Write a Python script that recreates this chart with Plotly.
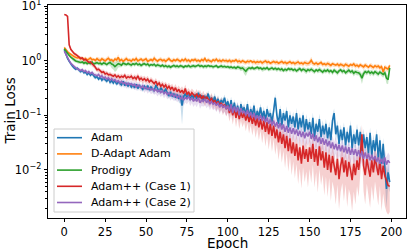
import plotly.graph_objects as go

epochs = list(range(200))

adam = [
1.6, 1.3, 1.1, 0.97, 0.86, 0.8, 0.74, 0.7, 0.73, 0.66,
0.63, 0.67, 0.6, 0.62, 0.56, 0.6, 0.54, 0.58, 0.52, 0.49,
0.51, 0.46, 0.5, 0.44, 0.48, 0.45, 0.42, 0.47, 0.4, 0.43,
0.39, 0.44, 0.37, 0.41, 0.38, 0.36, 0.42, 0.35, 0.39, 0.34,
0.38, 0.33, 0.36, 0.32, 0.37, 0.31, 0.35, 0.33, 0.3, 0.34,
0.31, 0.35, 0.29, 0.33, 0.3, 0.28, 0.36, 0.3, 0.27, 0.32,
0.29, 0.26, 0.31, 0.25, 0.23, 0.27, 0.22, 0.25, 0.21, 0.24,
0.2, 0.23, 0.15, 0.22, 0.25, 0.21, 0.24, 0.2, 0.23, 0.21,
0.24, 0.2, 0.26, 0.21, 0.23, 0.19, 0.22, 0.2, 0.25, 0.19,
0.21, 0.18, 0.22, 0.17, 0.2, 0.16, 0.19, 0.17, 0.21, 0.15,
0.18, 0.13, 0.19, 0.12, 0.17, 0.11, 0.15, 0.1, 0.16, 0.12,
0.14, 0.1, 0.16, 0.09, 0.13, 0.1, 0.15, 0.085, 0.12, 0.095,
0.14, 0.09, 0.12, 0.08, 0.13, 0.095, 0.11, 0.075, 0.12, 0.21,
0.1, 0.07, 0.13, 0.065, 0.11, 0.08, 0.12, 0.06, 0.1, 0.07,
0.095, 0.06, 0.11, 0.055, 0.09, 0.06, 0.1, 0.05, 0.085, 0.055,
0.075, 0.045, 0.09, 0.04, 0.07, 0.05, 0.085, 0.04, 0.065, 0.045,
0.07, 0.038, 0.06, 0.035, 0.08, 0.11, 0.045, 0.065, 0.03, 0.055,
0.035, 0.06, 0.028, 0.05, 0.032, 0.065, 0.025, 0.045, 0.03, 0.055,
0.028, 0.05, 0.022, 0.045, 0.025, 0.04, 0.02, 0.048, 0.018, 0.035,
0.022, 0.045, 0.016, 0.035, 0.013, 0.03, 0.011, 0.0045, 0.009, 0.006]

dadapt = [
1.75, 1.58, 1.46, 1.37, 1.29, 1.24, 1.19, 1.15, 1.12, 1.14,
1.08, 1.12, 1.05, 1.1, 1.03, 1.07, 1.12, 1.04, 1.06, 1.01,
1.09, 1.03, 1.0, 1.08, 1.05, 0.99, 1.06, 1.11, 1.02, 1.04,
0.98, 1.07, 1.03, 1.15, 1.0, 1.05, 0.97, 1.04, 1.09, 1.01,
1.03, 0.98, 1.06, 1.02, 1.1, 0.99, 1.04, 1.07, 1.0, 1.03,
1.08, 0.97, 1.02, 1.05, 1.0, 1.11, 1.03, 0.98, 1.04, 1.06,
1.0, 1.03, 0.97, 1.05, 1.09, 1.01, 0.98, 1.04, 1.0, 1.06,
1.02, 0.97, 1.05, 1.0, 1.08, 0.99, 1.03, 0.96, 1.04, 1.01,
1.06, 0.99, 1.02, 0.97, 1.05, 1.0, 1.1, 0.98, 1.03, 1.0,
0.96, 1.04, 1.0, 1.07, 0.98, 1.02, 0.97, 1.03, 0.99, 1.01,
0.97, 1.02, 0.95, 1.0, 0.98, 1.04, 0.96, 0.99, 0.94, 1.0,
0.96, 0.93, 0.98, 0.95, 1.0, 0.94, 0.97, 0.92, 0.96, 0.93,
0.97, 0.91, 0.95, 0.99, 0.93, 0.96, 0.9, 0.94, 0.97, 0.92,
0.95, 0.9, 0.93, 0.97, 0.91, 0.94, 0.89, 0.92, 0.96, 0.9,
0.93, 0.88, 0.92, 0.95, 0.89, 0.91, 0.87, 0.93, 0.9, 0.88,
0.92, 1.02, 0.9, 0.87, 0.91, 0.86, 0.89, 0.93, 0.85, 0.88,
0.84, 0.89, 0.86, 0.82, 0.88, 0.85, 0.83, 0.87, 0.81, 0.86,
0.84, 0.8, 0.86, 0.83, 0.79, 0.85, 0.82, 0.87, 0.8, 0.83,
0.78, 0.84, 0.81, 0.77, 0.83, 0.8, 0.76, 0.82, 0.79, 0.75,
0.81, 0.77, 0.8, 0.74, 0.78, 0.62, 0.76, 0.72, 0.7, 0.82]

prodigy = [
1.65, 1.48, 1.36, 1.25, 1.16, 1.09, 1.03, 0.99, 0.97, 0.95,
0.93, 0.95, 0.9, 0.93, 0.88, 0.92, 0.89, 0.94, 0.87, 0.9,
0.92, 0.88, 0.9, 0.86, 0.91, 0.89, 0.85, 0.9, 0.93, 0.87,
0.84, 0.78, 0.82, 0.88, 0.86, 0.83, 0.9, 0.87, 0.85, 0.89,
0.86, 0.83, 0.88, 0.85, 0.9, 0.84, 0.87, 0.82, 0.86, 0.88,
0.84, 0.87, 0.81, 0.85, 0.83, 0.86, 0.8, 0.84, 0.82, 0.79,
0.83, 0.78, 0.81, 0.77, 0.8, 0.76, 0.79, 0.82, 0.78, 0.8,
0.77, 0.81, 0.79, 0.76, 0.8, 0.78, 0.82, 0.77, 0.79, 0.81,
0.78, 0.8, 0.83, 0.79, 0.81, 0.77, 0.8, 0.78, 0.82, 0.79,
0.8, 0.77, 0.79, 0.81, 0.76, 0.78, 0.8, 0.77, 0.79, 0.76,
0.78, 0.75, 0.77, 0.74, 0.76, 0.73, 0.77, 0.75, 0.72, 0.74,
0.68, 0.64, 0.7, 0.74, 0.72, 0.75, 0.71, 0.73, 0.76, 0.72,
0.74, 0.7, 0.73, 0.71, 0.75, 0.69, 0.72, 0.74, 0.7, 0.73,
0.69, 0.72, 0.68, 0.71, 0.66, 0.7, 0.67, 0.72, 0.69, 0.71,
0.67, 0.7, 0.65, 0.69, 0.72, 0.66, 0.7, 0.68, 0.64, 0.69,
0.66, 0.7, 0.67, 0.63, 0.68, 0.65, 0.69, 0.66, 0.62, 0.67,
0.64, 0.68, 0.63, 0.66, 0.61, 0.67, 0.64, 0.6, 0.65, 0.68,
0.63, 0.66, 0.6, 0.64, 0.67, 0.62, 0.65, 0.59, 0.63, 0.61,
0.6, 0.56, 0.48, 0.58, 0.63, 0.6, 0.64, 0.59, 0.62, 0.58,
0.63, 0.6, 0.57, 0.62, 0.59, 0.56, 0.6, 0.48, 0.45, 0.74]

adampp1 = [
7.0, 6.9, 6.5, 1.95, 1.62, 1.45, 1.36, 1.3, 1.22, 1.16,
1.1, 1.12, 1.03, 1.06, 0.97, 0.93, 0.95, 0.86, 0.82, 0.76,
0.68, 0.7, 0.64, 0.61, 0.63, 0.57, 0.59, 0.55, 0.56, 0.53,
0.52, 0.55, 0.5, 0.53, 0.49, 0.52, 0.5, 0.54, 0.48, 0.51,
0.49, 0.52, 0.47, 0.5, 0.46, 0.53, 0.45, 0.48, 0.44, 0.47,
0.43, 0.46, 0.41, 0.44, 0.4, 0.38, 0.42, 0.36, 0.39, 0.34,
0.37, 0.33, 0.36, 0.31, 0.34, 0.3, 0.33, 0.28, 0.32, 0.27,
0.3, 0.26, 0.29, 0.25, 0.31, 0.24, 0.27, 0.23, 0.26, 0.24,
0.22, 0.25, 0.21, 0.24, 0.2, 0.23, 0.19, 0.22, 0.2, 0.18,
0.21, 0.17, 0.19, 0.16, 0.18, 0.15, 0.17, 0.14, 0.16, 0.13,
0.15, 0.11, 0.14, 0.1, 0.135, 0.09, 0.125, 0.085, 0.115, 0.09,
0.11, 0.08, 0.105, 0.075, 0.1, 0.07, 0.095, 0.065, 0.09, 0.06,
0.085, 0.055, 0.08, 0.05, 0.075, 0.045, 0.07, 0.042, 0.065, 0.038,
0.055, 0.032, 0.05, 0.03, 0.045, 0.025, 0.042, 0.022, 0.038, 0.02,
0.032, 0.018, 0.03, 0.015, 0.026, 0.013, 0.028, 0.016, 0.024, 0.014,
0.026, 0.016, 0.03, 0.014, 0.024, 0.012, 0.027, 0.015, 0.022, 0.011,
0.021, 0.01, 0.019, 0.009, 0.018, 0.012, 0.008, 0.016, 0.0068, 0.012,
0.017, 0.009, 0.015, 0.0075, 0.014, 0.01, 0.0065, 0.013, 0.008, 0.015,
0.01, 0.019, 0.045, 0.012, 0.008, 0.016, 0.01, 0.0075, 0.015, 0.009,
0.017, 0.011, 0.008, 0.015, 0.0068, 0.012, 0.0078, 0.0065, 0.0052, 0.005]

adampp2 = [
1.5, 1.28, 1.12, 1.0, 0.9, 0.83, 0.78, 0.74, 0.71, 0.69,
0.66, 0.69, 0.63, 0.66, 0.6, 0.63, 0.58, 0.61, 0.56, 0.55,
0.53, 0.56, 0.5, 0.53, 0.48, 0.5, 0.46, 0.49, 0.44, 0.47,
0.43, 0.45, 0.41, 0.43, 0.39, 0.42, 0.38, 0.4, 0.36, 0.39,
0.36, 0.38, 0.35, 0.37, 0.33, 0.36, 0.34, 0.32, 0.35, 0.31,
0.33, 0.3, 0.32, 0.29, 0.31, 0.28, 0.3, 0.27, 0.29, 0.26,
0.28, 0.25, 0.27, 0.24, 0.26, 0.23, 0.25, 0.22, 0.24, 0.21,
0.23, 0.2, 0.22, 0.19, 0.21, 0.2, 0.22, 0.19, 0.21, 0.18,
0.2, 0.18, 0.21, 0.17, 0.19, 0.18, 0.2, 0.17, 0.19, 0.16,
0.18, 0.16, 0.17, 0.15, 0.17, 0.14, 0.16, 0.14, 0.15, 0.13,
0.15, 0.12, 0.16, 0.11, 0.145, 0.115, 0.14, 0.1, 0.135, 0.11,
0.12, 0.1, 0.125, 0.095, 0.115, 0.09, 0.11, 0.085, 0.1, 0.082,
0.1, 0.08, 0.095, 0.075, 0.09, 0.07, 0.085, 0.065, 0.08, 0.062,
0.075, 0.058, 0.072, 0.055, 0.068, 0.05, 0.064, 0.048, 0.06, 0.046,
0.058, 0.045, 0.055, 0.042, 0.052, 0.04, 0.05, 0.038, 0.048, 0.041,
0.05, 0.037, 0.046, 0.034, 0.043, 0.032, 0.04, 0.03, 0.038, 0.029,
0.036, 0.027, 0.034, 0.025, 0.032, 0.024, 0.03, 0.023, 0.029, 0.022,
0.028, 0.021, 0.027, 0.02, 0.026, 0.019, 0.025, 0.019, 0.024, 0.018,
0.023, 0.017, 0.022, 0.016, 0.021, 0.016, 0.02, 0.015, 0.019, 0.015,
0.018, 0.014, 0.017, 0.013, 0.016, 0.013, 0.017, 0.0125, 0.015, 0.0135]

# relative standard deviation (std / mean) per epoch
adam_rel = [
.04,.05,.06,.06,.06,.07,.07,.06,.07,.07,
.07,.08,.07,.07,.08,.07,.08,.07,.08,.08,
.08,.08,.09,.08,.09,.08,.09,.08,.09,.09,
.09,.1,.08,.09,.09,.1,.09,.1,.09,.1,
.09,.1,.1,.09,.11,.1,.1,.09,.11,.1,
.1,.11,.1,.11,.1,.12,.11,.1,.12,.11,
.11,.12,.1,.12,.13,.11,.12,.12,.13,.12,
.13,.3,.55,.2,.12,.13,.13,.14,.12,.14,
.13,.15,.13,.14,.14,.16,.13,.15,.14,.14,
.15,.14,.16,.14,.16,.15,.14,.17,.15,.16,
.16,.17,.15,.18,.16,.16,.17,.16,.18,.17,
.17,.16,.19,.17,.18,.19,.17,.19,.17,.18,
.18,.19,.21,.17,.19,.2,.22,.18,.19,.18,
.2,.21,.18,.23,.19,.2,.22,.2,.24,.21,
.22,.2,.24,.21,.23,.25,.2,.23,.25,.22,
.23,.22,.25,.21,.24,.22,.26,.23,.25,.22,
.24,.23,.27,.22,.25,.21,.26,.24,.28,.23,
.25,.24,.28,.23,.26,.25,.29,.27,.24,.28,
.26,.29,.25,.28,.3,.26,.29,.25,.31,.27,
.28,.26,.31,.29,.33,.28,.4,.55,.45,.35]

dadapt_rel = [
.05,.06,.05,.06,.07,.06,.08,.07,.06,.08,
.09,.07,.1,.08,.09,.11,.08,.1,.07,.09,
.08,.1,.12,.09,.08,.11,.09,.12,.1,.08,
.1,.09,.11,.14,.08,.1,.12,.09,.11,.1,
.09,.11,.08,.1,.12,.09,.1,.08,.11,.09,
.1,.12,.09,.08,.11,.13,.09,.1,.08,.11,
.09,.1,.12,.08,.1,.09,.11,.1,.08,.09,
.11,.09,.1,.08,.12,.1,.09,.11,.08,.1,
.09,.11,.08,.1,.09,.12,.1,.08,.11,.09,
.1,.08,.11,.09,.1,.12,.09,.1,.08,.11,
.09,.1,.12,.08,.11,.09,.1,.13,.08,.1,
.11,.09,.1,.12,.08,.1,.11,.09,.12,.1,
.08,.11,.1,.09,.12,.1,.08,.11,.09,.1,
.12,.09,.1,.11,.08,.1,.12,.09,.11,.1,
.09,.11,.1,.12,.08,.1,.11,.09,.13,.1,
.12,.16,.11,.09,.1,.12,.08,.11,.1,.09,
.11,.1,.12,.09,.1,.11,.08,.1,.12,.09,
.1,.11,.09,.12,.1,.08,.11,.1,.12,.09,
.11,.1,.09,.12,.1,.11,.08,.1,.12,.1,
.09,.11,.1,.12,.1,.14,.11,.12,.1,.09]

prodigy_rel = [
.05,.06,.05,.07,.06,.07,.08,.06,.07,.08,
.07,.08,.09,.07,.08,.06,.09,.08,.07,.09,
.08,.07,.09,.08,.1,.07,.09,.08,.12,.16,
.18,.2,.19,.15,.12,.09,.08,.1,.07,.09,
.08,.1,.07,.09,.08,.07,.1,.08,.09,.07,
.09,.08,.1,.07,.08,.09,.07,.1,.08,.09,
.08,.1,.07,.09,.08,.1,.07,.09,.08,.1,
.07,.09,.08,.1,.07,.08,.09,.07,.1,.08,
.09,.07,.08,.1,.07,.09,.08,.1,.07,.09,
.08,.1,.07,.09,.08,.07,.1,.08,.09,.07,
.09,.08,.1,.07,.09,.08,.1,.09,.11,.1,
.16,.18,.12,.09,.08,.1,.07,.09,.08,.1,
.08,.1,.09,.07,.1,.08,.09,.1,.07,.09,
.1,.08,.09,.11,.08,.1,.09,.08,.1,.09,
.09,.1,.08,.11,.09,.1,.08,.1,.12,.09,
.1,.09,.11,.1,.08,.1,.12,.09,.1,.11,
.09,.1,.12,.08,.11,.1,.09,.12,.1,.09,
.11,.1,.09,.12,.1,.09,.11,.13,.1,.12,
.1,.14,.22,.15,.1,.11,.09,.12,.1,.11,
.1,.12,.11,.09,.12,.13,.11,.2,.18,.12]

adampp1_rel = [
.02,.02,.03,.08,.07,.06,.07,.07,.08,.07,
.08,.07,.09,.08,.09,.08,.09,.1,.09,.1,
.1,.11,.1,.12,.1,.12,.11,.1,.12,.11,
.12,.1,.12,.11,.13,.12,.11,.12,.14,.12,
.12,.14,.12,.13,.15,.12,.14,.13,.15,.13,
.14,.15,.13,.14,.16,.14,.15,.17,.14,.16,
.15,.17,.14,.18,.16,.18,.15,.17,.17,.19,
.17,.19,.17,.2,.18,.2,.17,.21,.19,.2,
.2,.21,.19,.23,.2,.22,.24,.2,.23,.21,
.22,.25,.22,.26,.23,.25,.24,.28,.25,.27,
.26,.3,.26,.32,.28,.33,.29,.34,.31,.33,
.32,.36,.31,.38,.34,.39,.35,.41,.37,.42,
.38,.44,.4,.46,.41,.48,.43,.49,.44,.5,
.46,.53,.48,.55,.5,.57,.51,.58,.53,.6,
.55,.61,.57,.63,.59,.65,.6,.63,.61,.66,
.6,.64,.58,.66,.62,.68,.61,.65,.63,.69,
.64,.68,.62,.7,.66,.64,.71,.66,.72,.67,
.66,.7,.64,.72,.68,.66,.73,.69,.71,.66,
.68,.64,.5,.66,.71,.65,.69,.73,.66,.7,
.64,.68,.72,.66,.74,.69,.72,.74,.71,.66]

adampp2_rel = [
.04,.05,.06,.06,.07,.06,.07,.08,.07,.08,
.08,.07,.09,.08,.08,.1,.08,.09,.1,.09,
.1,.1,.11,.1,.12,.1,.12,.11,.12,.13,
.12,.12,.13,.12,.14,.13,.15,.12,.15,.14,
.13,.15,.14,.15,.15,.14,.16,.15,.15,.17,
.15,.17,.15,.16,.17,.15,.17,.18,.16,.17,
.17,.18,.16,.19,.17,.2,.17,.18,.2,.17,
.19,.17,.2,.21,.18,.2,.19,.22,.2,.21,
.2,.22,.2,.22,.21,.2,.23,.21,.22,.22,
.21,.23,.22,.24,.22,.25,.22,.24,.23,.25,
.24,.25,.23,.26,.24,.27,.24,.26,.25,.27,
.26,.27,.25,.28,.27,.29,.26,.28,.29,.27,
.28,.29,.27,.3,.29,.31,.28,.3,.31,.29,
.3,.32,.29,.31,.31,.33,.3,.32,.34,.31,
.31,.34,.31,.33,.32,.34,.31,.34,.35,.33,
.33,.35,.32,.34,.34,.36,.33,.35,.36,.34,
.34,.36,.33,.35,.34,.36,.34,.36,.37,.35,
.35,.36,.34,.37,.36,.38,.35,.37,.38,.36,
.36,.38,.35,.37,.36,.38,.36,.39,.37,.38,
.36,.38,.37,.39,.38,.4,.37,.38,.39,.38]

x_ticks = [0, 25, 50, 75, 100, 125, 150, 175, 200]
y_ticks = [0.01, 0.1, 1, 10]
y_ticktext = ["10<sup>−2</sup>", "10<sup>−1</sup>", "10<sup>0</sup>", "10<sup>1</sup>"]

names = ["Adam", "D-Adapt Adam", "Prodigy", "Adam++ (Case 1)", "Adam++ (Case 2)"]
means = [adam, dadapt, prodigy, adampp1, adampp2]
rels = [adam_rel, dadapt_rel, prodigy_rel, adampp1_rel, adampp2_rel]
colors = ["#1f77b4", "#ff7f0e", "#2ca02c", "#d62728", "#9467bd"]
fills = ["rgba(31,119,180,0.25)", "rgba(255,127,14,0.25)", "rgba(44,160,44,0.25)",
         "rgba(214,39,40,0.22)", "rgba(148,103,189,0.22)"]

W, H = 407, 249
ML, MR, MT, MB = 48, 1, 5, 31
PW, PH = W - ML - MR, H - MT - MB


def px(xp):
    return (xp - ML) / PW


def py(yp):
    return (H - MB - yp) / PH


fig = go.Figure()

# bands first (drawn below all lines, like matplotlib collections)
for m, r, fc in zip(means, rels, fills):
    upper = [v * (1 + s) for v, s in zip(m, r)]
    lower = [v * (1 - s) for v, s in zip(m, r)]
    fig.add_trace(go.Scatter(
        x=epochs + epochs[::-1], y=upper + lower[::-1],
        fill="toself", fillcolor=fc, line=dict(width=0),
        mode="lines", showlegend=False, hoverinfo="skip"))

for name, m, c in zip(names, means, colors):
    fig.add_trace(go.Scatter(x=epochs, y=m, mode="lines", name=name,
                             showlegend=False,
                             line=dict(color=c, width=1.6)))

font = "DejaVu Sans, Arial, sans-serif"

# legend drawn by hand (matplotlib-like compact spacing)
shapes = [dict(type="rect", xref="paper", yref="paper",
               x0=px(54), x1=px(194), y0=py(212), y1=py(129),
               fillcolor="rgba(255,255,255,0.85)",
               line=dict(color="#cccccc", width=1), layer="above")]
annotations = []
row_y = [137.7, 153.9, 170.1, 186.3, 202.5]
for name, c, ry in zip(names, colors, row_y):
    shapes.append(dict(type="line", xref="paper", yref="paper",
                       x0=px(57), x1=px(82), y0=py(ry), y1=py(ry),
                       line=dict(color=c, width=1.6), layer="above"))
    annotations.append(dict(text=name, xref="paper", yref="paper",
                            x=px(89), y=py(ry), xanchor="left", yanchor="middle",
                            showarrow=False, font=dict(size=11, family=font)))

annotations += [
    dict(text="Epoch", xref="paper", yref="paper", x=0.5, y=py(243),
         xanchor="center", yanchor="middle", showarrow=False,
         font=dict(size=13.5, family=font)),
    dict(text="Train Loss", xref="paper", yref="paper", x=px(9), y=0.5,
         xanchor="center", yanchor="middle", textangle=-90, showarrow=False,
         font=dict(size=13.5, family=font)),
]

fig.update_layout(
    width=W, height=H,
    margin=dict(l=ML, r=MR, t=MT, b=MB, autoexpand=False),
    paper_bgcolor="white", plot_bgcolor="white",
    font=dict(family=font, size=11, color="black"),
    showlegend=False,
    shapes=shapes, annotations=annotations,
)
fig.update_xaxes(
    range=[-9.95, 208.95], tickvals=x_ticks, automargin=False,
    ticks="outside", ticklen=3.5, tickwidth=0.8, tickcolor="black",
    showline=True, linecolor="black", linewidth=0.8, mirror=True,
    showgrid=False, zeroline=False, tickfont=dict(size=11.5),
    ticklabeloverflow="allow",
)
fig.update_yaxes(
    type="log", range=[-2.88, 1.02], automargin=False,
    tickvals=y_ticks, ticktext=y_ticktext,
    ticks="outside", ticklen=3.5, tickwidth=0.8, tickcolor="black",
    minor=dict(ticks="outside", ticklen=2, tickwidth=0.6, tickcolor="black",
               tickvals=[k * 10 ** e for e in (-3, -2, -1, 0) for k in range(2, 10)]),
    showline=True, linecolor="black", linewidth=0.8, mirror=True,
    showgrid=False, zeroline=False, tickfont=dict(size=11.5),
    ticklabeloverflow="allow",
)

fig.write_html("out.html", config={"displayModeBar": False},
               post_script="document.body.style.margin='0';document.body.style.overflow='hidden';")
